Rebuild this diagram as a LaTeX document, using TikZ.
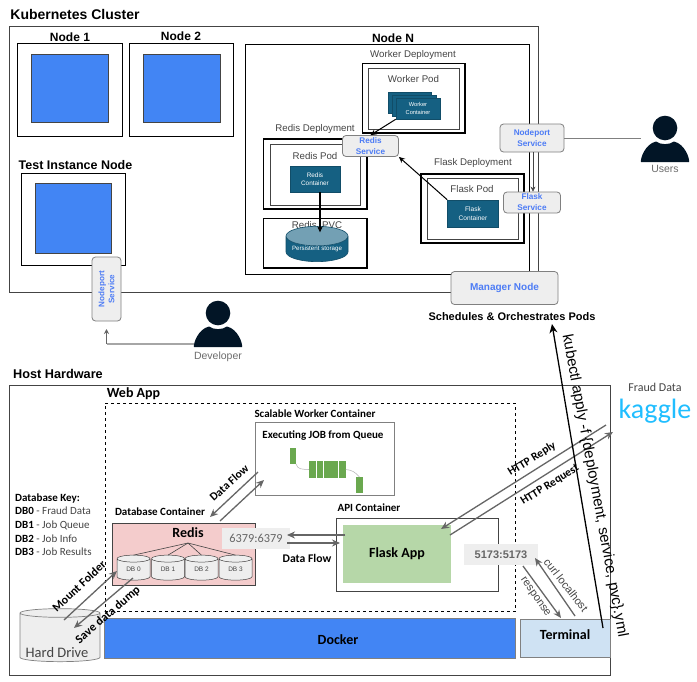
\documentclass[tikz,border=0pt]{standalone}
\usepackage{fontspec}
\setmainfont{Liberation Sans}
\newfontfamily\calfont{Carlito}
\usetikzlibrary{arrows.meta,shapes.geometric,calc}
\definecolor{gblue}{HTML}{4285F4}
\definecolor{tealc}{HTML}{156082}
\definecolor{svcblue}{HTML}{4D7CF5}
\definecolor{svcfill}{HTML}{EEEEEE}
\definecolor{arrowgray}{HTML}{666666}
\definecolor{labelgray}{HTML}{444444}
\definecolor{personc}{HTML}{021526}
\definecolor{qgreen}{HTML}{6AA84F}
\definecolor{pinkc}{HTML}{F4CCCC}
\newcommand{\Bx}[6][]{\node[inner sep=0pt,outer sep=0pt,align=center,minimum width={(#5-#3)*1pt},minimum height={(#6-#4)*1pt},#1] (#2) at ({(#3+#5)/2},{(#4+#6)/2}) {};}
\newcommand{\Person}[5]{%
  \fill[personc] (#2,#3) circle (12.3);
  \fill[personc] ($(#2,#3)+(-24,34)$) .. controls ($(#2,#3)+(-25,31)$) and ($(#2,#3)+(-20,16)$) .. ($(#2,#3)+(-9,13.5)$) .. controls ($(#2,#3)+(-4,17)$) and ($(#2,#3)+(4,17)$) .. ($(#2,#3)+(9,13.5)$) .. controls ($(#2,#3)+(20,16)$) and ($(#2,#3)+(25,31)$) .. ($(#2,#3)+(24,34)$) -- cycle;
  \node[coordinate] (#1) at ($(#2,#3)+(-24,31)$) {};
  \node[persontext] (#1text) at ($(#2,#3)+(0,#4)$) {#5};
}
\tikzset{
  x=1pt,y=-1pt,
  title/.style={font=\bfseries\fontsize{12}{14}\selectfont,text=black,inner sep=0pt},
  dep/.style={font=\fontsize{9.7}{11}\selectfont,text=labelgray,inner sep=0pt},
  calb/.style={font=\calfont\bfseries\fontsize{11}{12}\selectfont,text=black,inner sep=0pt},
  plainbox/.style={draw=black,line width=.8pt,fill=white},
  thickbox/.style={draw=black,line width=1.3pt,fill=white},
  innerbox/.style={draw=labelgray,line width=.9pt,fill=none},
  bluebox/.style={draw=labelgray,line width=.6pt,fill=gblue},
  contbox/.style={draw=tealc!80!black,line width=.6pt,fill=tealc,text=white,align=center,font=\fontsize{6.6}{9}\selectfont},
  svc/.style={draw=gray,line width=.8pt,fill=svcfill,rounded corners=3.5pt,text=svcblue,align=center,font=\bfseries\fontsize{8.2}{11}\selectfont},
  persontext/.style={font=\fontsize{10.5}{12}\selectfont,text=gray!85!black,inner sep=0pt},
  db/.style={cylinder,shape border rotate=90,aspect=.48,draw=labelgray,line width=.5pt,cylinder uses custom fill,cylinder end fill=svcfill,cylinder body fill=svcfill,minimum width=33pt,minimum height=25pt,inner sep=0pt,outer sep=0pt,font=\fontsize{6.5}{8}\selectfont,text=labelgray},
  garrow/.style={draw=arrowgray,line width=1.3pt,-{Stealth[length=8pt,width=7pt]}},
  rot/.style={font=\calfont\bfseries\fontsize{11.5}{12}\selectfont,text=black,inner sep=0pt},
  portbox/.style={draw=none,fill=svcfill,font=\bfseries\fontsize{11}{12}\selectfont,text=arrowgray},
  keyline/.style={anchor=west,font=\calfont\fontsize{11}{12}\selectfont,text=labelgray,inner sep=0pt}
}
\begin{document}
\begin{tikzpicture}
\useasboundingbox (0,0) rectangle (697,681);
\fill[white] (0,0) rectangle (697,681);

% ---- Kubernetes cluster ----
\Bx[draw=labelgray,line width=.9pt]{cluster}{9.5}{26}{538}{292}
\node[title,font=\bfseries\fontsize{14}{16}\selectfont] (clusterlabel) at (75,14) {Kubernetes Cluster};

\node[title] (n1label) at (70,37) {Node 1};
\Bx[plainbox]{node1}{17}{43}{122}{136}
\Bx[bluebox]{blue1}{31}{54}{108}{122}
\node[title] (n2label) at (181,36) {Node 2};
\Bx[plainbox]{node2}{129}{43}{233}{136}
\Bx[bluebox]{blue2}{143}{54}{220}{122}

\node[title,font=\bfseries\fontsize{12.5}{14}\selectfont] (testlabel) at (75.5,165) {Test Instance Node};
\Bx[plainbox]{testnode}{21}{173}{125.5}{265.5}
\Bx[bluebox]{blue3}{35.5}{183}{111}{253}

% ---- Node N ----
\Bx[draw=black,line width=.8pt]{noden}{245}{44}{529}{274}
\node[title] (nnlabel) at (393,38) {Node N};

\node[dep] (wdlabel) at (413,55) {Worker Deployment};
\Bx[thickbox]{wdep}{362.5}{63.5}{465}{133}
\Bx[innerbox]{wpod}{368.5}{68}{459.5}{129}
\node[dep] (wplabel) at (413.5,79) {Worker Pod};
\Bx[contbox]{wc3}{388}{92}{431}{113}
\Bx[contbox]{wc2}{392}{95}{436}{116}
\node[contbox,font=\fontsize{5.7}{7.5}\selectfont,minimum width=44pt,minimum height=21pt,inner sep=0pt] (wc1) at (418,108.5) {Worker\\Container};

\node[dep] (rdlabel) at (315,128.5) {Redis Deployment};
\Bx[thickbox]{rdep}{263.5}{139}{367}{209}
\Bx[innerbox]{rpod}{270}{144}{360.5}{205}
\node[dep] (rplabel) at (315,156) {Redis Pod};
\node[contbox,font=\fontsize{6.4}{8}\selectfont,minimum width=50pt,minimum height=26pt,inner sep=0pt] (rc) at (315,179) {Redis\\Container};

\Bx[thickbox]{pvc}{263.5}{218.5}{367}{268}
\node[dep] (pvclabel) at (317,226) {Redis\_PVC};
\node[cylinder,shape border rotate=90,aspect=.39,draw=tealc!80!black,line width=.6pt,cylinder uses custom fill,cylinder end fill=tealc!60!white,cylinder body fill=tealc,minimum width=62pt,minimum height=33pt,inner sep=0pt,outer sep=0pt,text=white,font=\fontsize{6.2}{8}\selectfont] (store) at (317,249) {\raisebox{-2pt}{Persistent storage}};

\node[dep] (fdlabel) at (473,163) {Flask Deployment};
\Bx[thickbox]{fdep}{421}{174}{524}{243}
\Bx[innerbox]{fpod}{427}{178}{518}{239}
\node[dep] (fplabel) at (472,189) {Flask Pod};
\node[contbox,minimum width=51pt,minimum height=27pt,inner sep=0pt] (fc) at (473,213.5) {Flask\\Container};

\node[svc,minimum width=56pt,minimum height=21pt,inner sep=0pt] (rsvc) at (370.5,146) {Redis\\Service};
\node[svc,minimum width=64pt,minimum height=28pt,inner sep=0pt] (npsvc) at (532,138) {Nodeport\\Service};
\node[svc,minimum width=57pt,minimum height=21pt,inner sep=0pt] (fsvc) at (532,202.5) {Flask\\Service};
\node[svc,font=\bfseries\fontsize{10}{12}\selectfont,minimum width=107pt,minimum height=33pt,inner sep=0pt] (mgr) at (504.5,288) {Manager Node};

\node[svc,rotate=90,minimum width=64pt,minimum height=29pt,inner sep=0pt,font=\bfseries\fontsize{8.1}{10}\selectfont] (npv) at (106.5,289) {Nodeport\\Service};

% k8s connectors
\draw[draw=black,line width=1pt,-{Stealth[length=6pt,width=5.5pt]}] (wc1.south west) -- (rsvc.north);
\draw[draw=black,line width=1pt,-{Stealth[length=6pt,width=5.5pt]}] (fc.north west) -- (rsvc.south east);
\coordinate (rcs) at ($(rc.south)+(5,0)$);
\draw[draw=black,line width=1.1pt,-{Stealth[length=6pt,width=5.5pt]}] (rcs) -- ($(rcs |- store.top)+(0,6)$);
\coordinate (nps) at ($(npsvc.south)+(1,0)$);
\draw[draw=labelgray,line width=.6pt,-{Stealth[length=5pt,width=5pt]}] (nps) -- (nps |- fsvc.north);

% ---- people ----
\Person{usr}{665}{128}{41}{Users}
\draw[draw=gray,line width=.9pt] (npsvc.east) -- (usr |- npsvc.east);
\Person{dev}{218}{313}{44}{Developer}
\coordinate (devcorner) at (dev -| npv.center);
\draw[draw=gray!70,line width=1.2pt] (dev) -- (devcorner);
\coordinate (devtip) at (106.5,329);
\draw[draw=arrowgray,line width=.8pt,-{Stealth[length=5pt,width=5pt]}] (devcorner) -- (devtip);

% ---- Host hardware ----
\node[title,font=\bfseries\fontsize{12.7}{14}\selectfont] (hostlabel) at (58,374) {Host Hardware};
\Bx[draw=labelgray,line width=.9pt]{host}{9.5}{385}{610}{675}
\node[title,font=\calfont\bfseries\fontsize{14}{15}\selectfont] (weblabel) at (133.5,394) {Web App};
\Bx[draw=black,line width=.9pt,dashed]{webapp}{105}{403}{515.5}{611}

\node[calb] (swlabel) at (315,414) {Scalable Worker Container};
\Bx[draw=gray,line width=.9pt,fill=white]{worker}{255}{422}{394}{495}
\node[calb] (execlabel) at (323,436) {Executing JOB from Queue};
\Bx[fill=qgreen]{q0}{290}{448}{296}{464}
\foreach \i in {0,...,4}{\node[inner sep=0pt,minimum width=6.8pt,minimum height=17pt,fill=qgreen] (qm\i) at ({312.5+\i*7.4},469.5) {};}
\Bx[fill=qgreen]{q1}{356}{477}{363}{493}
\draw[draw=gray!60,line width=.5pt] (q0.south east) .. controls (298,470) and (302,469) .. (qm0.west);
\draw[draw=gray!60,line width=.5pt] (qm4.east) .. controls (352,470) and (355,472) .. (q1.north);

\node[calb,anchor=center] (dblabel) at (160,512) {Database Container};
\Bx[draw=labelgray,line width=.5pt,fill=pinkc]{redis}{112}{523}{255}{585}
\node[title,font=\calfont\bfseries\fontsize{14}{16}\selectfont] (redislabel) at (188,533) {Redis};
\coordinate (hub) at (188,543);
\node[db] (db0) at (133.5,569.5) {DB 0};
\node[db] (db1) at (168,569.5) {DB 1};
\node[db] (db2) at (201.5,569.5) {DB 2};
\node[db] (db3) at (235.5,569.5) {DB 3};
\foreach \d in {db0,db1,db2,db3}{\draw[draw=labelgray,line width=.6pt] (hub) -- (\d.top);}

\node[portbox,font=\calfont\fontsize{12.3}{14}\selectfont,minimum width=68pt,minimum height=21pt,inner sep=0pt] (p6379) at (256,538.5) {6379:6379};

\node[calb] (apilabel) at (369,508) {API Container};
\Bx[draw=labelgray,line width=.8pt,fill=white]{api}{336}{518}{498.5}{591}
\node[inner sep=0pt,minimum width=108pt,minimum height=58pt,font=\calfont\bfseries\fontsize{14}{16}\selectfont,fill={rgb,255:red,182;green,215;blue,168}] (flask) at (397,554) {Flask App};

\node[portbox,minimum width=74pt,minimum height=21pt,inner sep=0pt] (p5173) at (501,554.5) {5173:5173};

\Bx[draw=gray,line width=.8pt,fill=gblue]{docker}{104}{618}{515.5}{658}
\node[title,font=\calfont\bfseries\fontsize{14}{16}\selectfont] (dockerlabel) at (338,640) {Docker};
\Bx[draw=gray,line width=.8pt,fill={rgb,255:red,207;green,226;blue,243}]{term}{520}{619}{610}{657}
\node[title,font=\calfont\bfseries\fontsize{14}{15}\selectfont] (termlabel) at (565,635) {Terminal};

\node[cylinder,shape border rotate=90,aspect=.4,draw=gray,line width=.7pt,cylinder uses custom fill,cylinder end fill=svcfill,cylinder body fill=svcfill,minimum width=80pt,minimum height=53pt,inner sep=0pt,outer sep=0pt] (hd) at (60,637.5) {\phantom{Hard}};
\node[font=\calfont\fontsize{14.5}{16}\selectfont,text=labelgray,inner sep=0pt] (hdlabel) at (57,653) {Hard Drive};

% database key
\node[keyline,text=black,font=\calfont\bfseries\fontsize{11}{12}\selectfont] (key) at (15,498) {Database Key:};
\node[keyline] (k0) at (15,511) {\textbf{\textcolor{black}{DB0}} - Fraud Data};
\node[keyline] (k1) at (15,525) {\textbf{\textcolor{black}{DB1}} - Job Queue};
\node[keyline] (k2) at (15,539) {\textbf{\textcolor{black}{DB2}} - Job Info};
\node[keyline] (k3) at (15,552) {\textbf{\textcolor{black}{DB3}} - Job Results};

% host connectors
\coordinate (dfa) at (258,472); \coordinate (dfb) at (210,517);
\coordinate (dfc) at (220,521); \coordinate (dfd) at (264,480);
\draw[garrow] (dfa) -- (dfb);
\draw[garrow] (dfc) -- (dfd);
\node[rot,rotate=42] (dflabel1) at (229,483) {Data Flow};

\coordinate (pa) at (345,535); \coordinate (pb) at (287,535);
\coordinate (pc) at (287,543); \coordinate (pd) at (340,543);
\draw[garrow] (pa) -- (pb);
\draw[garrow] (pc) -- (pd);
\node[calb,font=\calfont\bfseries\fontsize{11.7}{13}\selectfont] (dflabel2) at (307,558) {Data Flow};

\coordinate (mfa) at (64,620); \coordinate (mfb) at (117,571);
\draw[garrow] (mfa) -- (mfb);
\node[rot,font=\calfont\bfseries\fontsize{12}{13}\selectfont,rotate=43] (mflabel) at (79,586) {Mount Folder};
\coordinate (sda) at (133,578); \coordinate (sdb) at (74,628);
\draw[garrow] (sda) -- (sdb);
\node[rot,font=\calfont\bfseries\fontsize{12.2}{13}\selectfont,rotate=41] (sdlabel) at (108,615) {Save data dump};

\coordinate (hra) at (606,425); \coordinate (hrb) at (441,529);
\coordinate (hqa) at (450,535); \coordinate (hqb) at (613,432);
\draw[garrow] (hra) -- (hrb);
\draw[garrow] (hqa) -- (hqb);
\node[rot,rotate=32] (hrlabel) at (532,459) {HTTP Reply};
\node[rot,rotate=32] (hqlabel) at (550,485) {HTTP Request};

\coordinate (cla) at (575,616); \coordinate (clb) at (535,558);
\coordinate (rea) at (523,566); \coordinate (reb) at (561,618);
\draw[garrow] (cla) -- (clb);
\draw[garrow] (rea) -- (reb);
\node[rotate=-52,font=\fontsize{11}{12}\selectfont,text=labelgray,inner sep=0pt] (cllabel) at (566,585) {curl localhost};
\node[rotate=-55,font=\fontsize{11}{12}\selectfont,text=labelgray,inner sep=0pt] (relabel) at (535,597) {response};

% schedules + kubectl
\node[title,font=\bfseries\fontsize{11}{13}\selectfont] (sched) at (512,317) {Schedules \& Orchestrates Pods};
\coordinate (kua) at (603,628);
\coordinate (kub) at (552,324);
\draw[draw=black,line width=1.3pt,-{Stealth[length=9pt,width=8pt]}] (kua) -- (kub);
\node[rotate=-79.5,font=\fontsize{15}{17}\selectfont,text=black,inner sep=0pt] (kulabel) at (594.5,486) {kubectl apply -f \{deployment, service, pvc\}.yml};

% kaggle
\node[font=\calfont\fontsize{12}{14}\selectfont,text=labelgray,inner sep=0pt] (fraud) at (655,387) {Fraud Data};
\node[font=\calfont\fontsize{28}{30}\selectfont,text={rgb,255:red,32;green,190;blue,255},inner sep=0pt] (kaggle) at (655,411) {kaggle};
\end{tikzpicture}
\end{document}
